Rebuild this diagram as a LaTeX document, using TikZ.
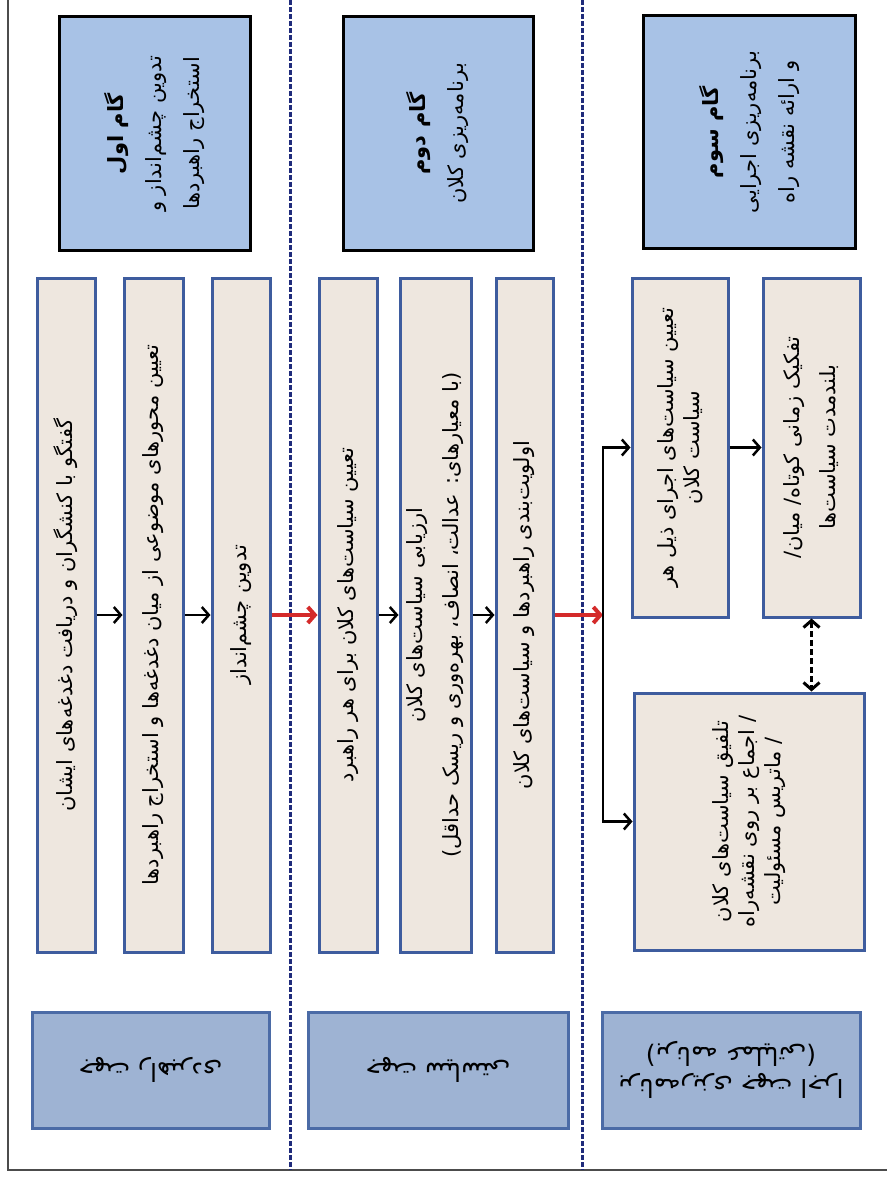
\documentclass[tikz,border=0pt]{standalone}
\usepackage{fontspec}
\usetikzlibrary{arrows.meta}
\newfontfamily\farsi[Script=Arabic]{DejaVu Sans}
\TeXXeTstate=1
\newcommand{\fa}[1]{\beginR #1\endR}

\definecolor{stepblue}{HTML}{A8C2E6}
\definecolor{cellfill}{HTML}{EEE7DF}
\definecolor{celledge}{HTML}{3E5C9E}
\definecolor{levelfill}{HTML}{9EB3D3}
\definecolor{leveledge}{HTML}{4B6BA6}
\definecolor{sepnavy}{HTML}{1F2B7B}
\definecolor{flowred}{HTML}{D42A2A}

\begin{document}
\begin{tikzpicture} [x=1pt, y=-1pt,
stepbox/.style={draw=black, line width=3pt, fill=stepblue, rotate=90, align=center, inner sep=0pt,
  font=\farsi\fontsize{21}{38}\selectfont},
cell/.style={draw=celledge, line width=3pt, fill=cellfill, rotate=90, align=center, inner sep=0pt,
  font=\farsi\fontsize{21}{36}\selectfont},
level/.style={draw=leveledge, line width=3pt, fill=levelfill, rotate=180, align=center, inner sep=0pt,
  font=\farsi\fontsize{25}{32}\selectfont},
flow/.style={-{Straight Barb[length=7pt,width=16pt]}, line width=2.5pt},
redflow/.style={flow, draw=flowred, line width=4pt},
twoway/.style={{Straight Barb[length=7pt,width=16pt]}-{Straight Barb[length=7pt,width=16pt]}, line width=3pt, dash pattern=on 6pt off 3pt},
separator/.style={sepnavy, line width=3pt, dash pattern=on 5pt off 2pt}]

\useasboundingbox (0,0) rectangle (887,1177);

%frame and phase separators
\draw[gray!60!black, line width=1.5pt] (8,0) -- (8,1170) -- (887,1170);
\draw[separator] (290,0) -- (290,1170);
\draw[separator] (582,0) -- (582,1170);

%step headers
\node[stepbox, minimum width=233pt, minimum height=191pt] (step1) at (154.5,133.5)
  {{\bfseries\fa{گام اول}}\\\fa{تدوین چشم‌انداز و}\\\fa{استخراج راهبردها}};
\node[stepbox, minimum width=233pt, minimum height=190pt] (step2) at (438,133.5)
  {{\bfseries\fa{گام دوم}}\\\fa{برنامه‌ریزی کلان}};
\node[stepbox, minimum width=232pt, minimum height=212pt] (step3) at (749,132)
  {{\bfseries\fa{گام سوم}}\\\fa{برنامه‌ریزی اجرایی}\\\fa{و ارائه نقشه راه}};

%first step: vision
\node[cell, minimum width=674pt, minimum height=58pt] (vision1) at (66,615)
  {\fa{گفتگو با کنشگران و دریافت دغدغه‌های ایشان}};
\node[cell, minimum width=674pt, minimum height=59pt] (vision2) at (153.5,615)
  {\fa{تعیین محورهای موضوعی از میان دغدغه‌ها و استخراج راهبردها}};
\node[cell, minimum width=674pt, minimum height=58pt] (vision3) at (241,615)
  {\fa{تدوین چشم‌انداز}};

%second step: macro policies
\node[cell, minimum width=674pt, minimum height=58pt] (macro1) at (348,615)
  {\fa{تعیین سیاست‌های کلان برای هر راهبرد}};
\node[cell, minimum width=674pt, minimum height=71pt] (macro2) at (435.5,615)
  {\fa{ارزیابی سیاست‌های کلان}\\\fa{(با معیارهای: عدالت، انصاف، بهره‌وری و ریسک حداقل)}};
\node[cell, minimum width=674pt, minimum height=57pt] (macro3) at (524.5,615)
  {\fa{اولویت‌بندی راهبردها و سیاست‌های کلان}};

%third step: action plan
\node[cell, minimum width=339pt, minimum height=96pt, font=\farsi\fontsize{21}{26}\selectfont] (plan1) at (680,447.5)
  {\fa{تعیین سیاست‌های اجرای ذیل هر}\\\fa{سیاست کلان}};
\node[cell, minimum width=339pt, minimum height=97pt] (plan2) at (811.5,447.5)
  {\fa{تفکیک زمانی کوتاه/ میان/}\\\fa{بلندمدت سیاست‌ها}};
\node[cell, minimum width=257pt, minimum height=230pt, font=\farsi\fontsize{21}{26}\selectfont] (plan3) at (749,821.5)
  {\fa{تلفیق سیاست‌های کلان}\\\fa{/ اجماع بر روی نقشه‌راه}\\\fa{/ ماتریس مسئولیت}};

%level labels
\node[level, minimum width=237pt, minimum height=116pt] (level1) at (150.5,1070)
  {\fa{جهت راهبردی}};
\node[level, minimum width=260pt, minimum height=116pt] (level2) at (438,1070)
  {\fa{جهت سیاستی}};
\node[level, minimum width=258pt, minimum height=116pt] (level3) at (731,1070)
  {\fa{برنامه‌ریزی جهت اجرا}\\\fa{(برنامه عملیاتی)}};

\coordinate (fork) at (603,615);

\draw[flow]    (vision1.south) -- (vision2.north);
\draw[flow]    (vision2.south) -- (vision3.north);
\draw[redflow] (vision3.south) -- (macro1.north);
\draw[flow]    (macro1.south) -- (macro2.north);
\draw[flow]    (macro2.south) -- (macro3.north);
\draw[redflow] (macro3.south) -- (fork);
\draw[flow]    (fork) |- (plan1.north);
\draw[flow]    (fork) |- (plan3.north);
\draw[flow]    (plan1.south) -- (plan2.north);
\draw[twoway]  (plan2.west) -- (plan2.west |- plan3.east);

\end{tikzpicture}
\end{document}
